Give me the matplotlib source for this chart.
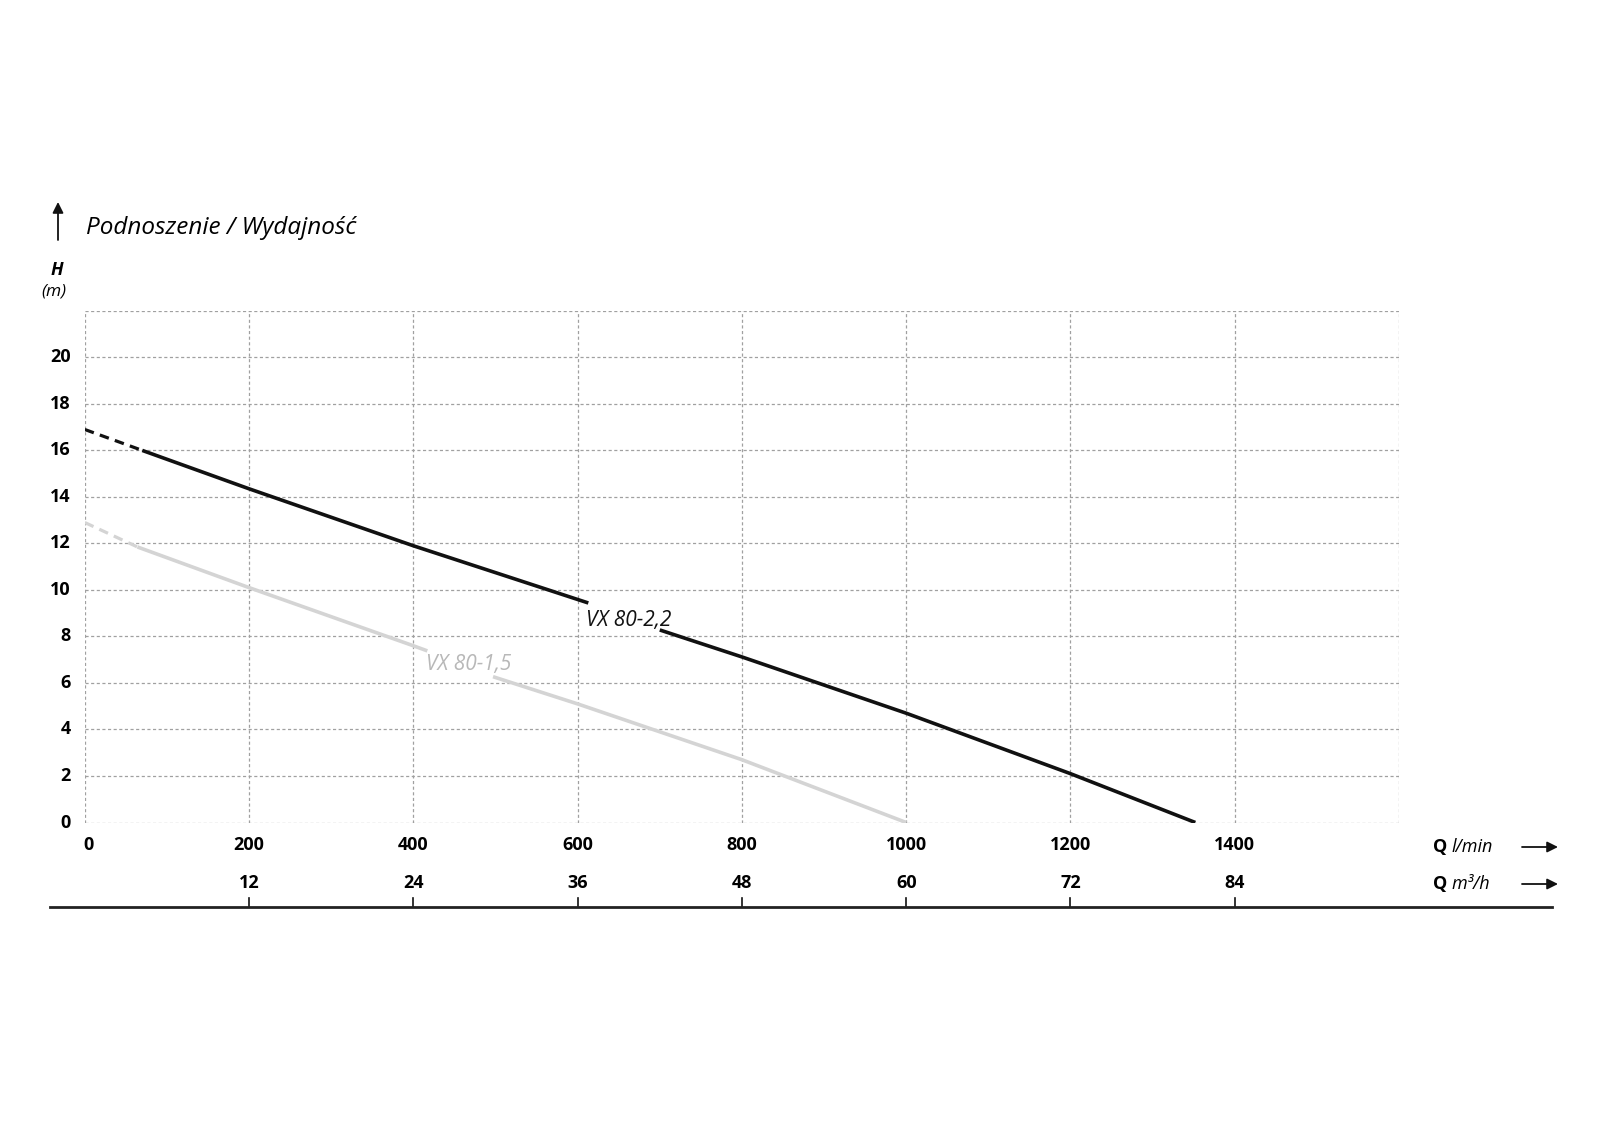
#!/usr/bin/env python3
"""
Pump curve chart: head vs flow for VX 80 pumps
"""

import matplotlib.pyplot as plt
from matplotlib.lines import Line2D
from matplotlib.transforms import blended_transform_factory

plt.rcParams['font.family'] = ['Open Sans', 'DejaVu Sans']

# VX 80-2,2 (black)
q22_dash = [0, 70]
h22_dash = [16.9, 16.0]
q22_a = [70, 200, 400, 613]
h22_a = [16.0, 14.35, 11.9, 9.44]
q22_b = [700, 800, 1000, 1200, 1352]
h22_b = [8.28, 7.12, 4.7, 2.1, 0.0]

# VX 80-1,5 (grey)
q15_dash = [0, 64]
h15_dash = [12.9, 11.85]
q15_a = [64, 200, 400, 417]
h15_a = [11.85, 10.1, 7.6, 7.38]
q15_b = [497, 600, 800, 1000]
h15_b = [6.27, 5.1, 2.7, 0.0]

x_ticks = [0, 200, 400, 600, 800, 1000, 1200, 1400]
m3h_ticks = [12, 24, 36, 48, 60, 72, 84]
y_ticks = [0, 2, 4, 6, 8, 10, 12, 14, 16, 18, 20]

fig = plt.figure(figsize=(16, 11.43), dpi=100)
ax = fig.add_axes([0.053, 0.2804, 0.8214, 0.4476])
ax.set_xlim(0, 1600)
ax.set_ylim(0, 22)
ax.axis('off')

grid_kw = dict(color='#a0a0a0', linewidth=0.9, linestyle=(0, (2.5, 2)), zorder=1)
for x in range(0, 1601, 200):
    ax.axvline(x, **grid_kw)
for y in range(0, 23, 2):
    ax.axhline(y, **grid_kw)

black = '#111111'
grey = '#d4d4d4'
ax.plot(q22_dash, h22_dash, color=black, lw=2.3, ls=(0, (3, 2)), zorder=3)
ax.plot(q22_a, h22_a, color=black, lw=2.6, zorder=3, solid_capstyle='butt')
ax.plot(q22_b, h22_b, color=black, lw=2.6, zorder=3, solid_capstyle='butt')
ax.plot(q15_dash, h15_dash, color=grey, lw=2.3, ls=(0, (3, 2)), zorder=3)
ax.plot(q15_a, h15_a, color=grey, lw=2.6, zorder=3, solid_capstyle='butt')
ax.plot(q15_b, h15_b, color=grey, lw=2.6, zorder=3, solid_capstyle='butt')

ax.text(662, 8.7, 'VX 80-2,2', fontsize=15, style='italic', color=black,
        ha='center', va='center')
ax.text(467, 6.8, 'VX 80-1,5', fontsize=15, style='italic', color='#b8b8b8',
        ha='center', va='center')

# tick labels
for y in y_ticks:
    ax.text(-17, y, str(y), fontsize=13, fontweight='bold', ha='right', va='center')
trans_x = blended_transform_factory(ax.transData, fig.transFigure)
for x in x_ticks:
    xx = 5 if x == 0 else x
    ax.text(xx, 1 - 845 / 1143, str(x), fontsize=13, fontweight='bold',
            ha='center', va='center', transform=trans_x)
for v in m3h_ticks:
    ax.text(v * 1000 / 60, 1 - 883 / 1143, str(v), fontsize=13, fontweight='bold',
            ha='center', va='center', transform=trans_x)
    ax.add_line(Line2D([v * 1000 / 60] * 2, [1 - 907 / 1143, 1 - 898 / 1143],
                       color=black, lw=1.2, transform=trans_x, clip_on=False))

# bottom rule
fig.add_artist(Line2D([50 / 1600, 1552 / 1600], [1 - 907 / 1143] * 2,
                      color='#222222', lw=2.0))

# axis unit labels
fig.text(57 / 1600, 1 - 270 / 1143, 'H', fontsize=13, fontweight='bold',
         style='italic', ha='center', va='center')
fig.text(54 / 1600, 1 - 292 / 1143, '(m)', fontsize=12.5, style='italic',
         ha='center', va='center')
fig.text(86 / 1600, 1 - 228 / 1143, 'Podnoszenie / Wydajność', fontsize=17.5,
         style='italic', ha='left', va='center')
fig.add_artist(plt.Annotation('', xy=(58 / 1600, 1 - 202 / 1143),
                              xytext=(58 / 1600, 1 - 240 / 1143),
                              xycoords='figure fraction', textcoords='figure fraction',
                              arrowprops=dict(arrowstyle='-|>', color=black, lw=1.3,
                                              mutation_scale=16, shrinkA=0, shrinkB=0)))

for yy, unit in [(847, 'l/min'), (884, 'm³/h')]:
    fig.text(1433 / 1600, 1 - yy / 1143, 'Q', fontsize=13, fontweight='bold',
             ha='left', va='center')
    fig.text(1451 / 1600, 1 - yy / 1143, unit, fontsize=13, style='italic',
             ha='left', va='center')
    fig.add_artist(plt.Annotation('', xy=(1558 / 1600, 1 - yy / 1143),
                                  xytext=(1522 / 1600, 1 - yy / 1143),
                                  xycoords='figure fraction', textcoords='figure fraction',
                                  arrowprops=dict(arrowstyle='-|>', color=black, lw=1.3,
                                                  mutation_scale=16, shrinkA=0, shrinkB=0)))

fig.savefig('out.png', dpi=100, facecolor='white')
